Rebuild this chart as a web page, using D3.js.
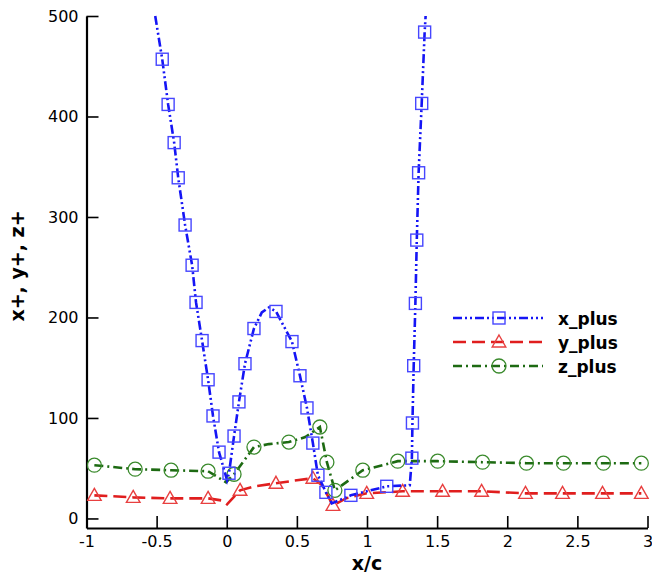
<!DOCTYPE html>
<html>
<head>
<meta charset="utf-8">
<script src="https://cdn.jsdelivr.net/npm/d3@7"></script>
<style>
  html, body { margin: 0; padding: 0; background: #fff; }
  svg { display: block; }
</style>
</head>
<body>
<svg id="chart" width="652" height="575"></svg>
<script>
// ---------------- data ----------------
const xTicks = [-1, -0.5, 0, 0.5, 1, 1.5, 2, 2.5, 3];
const xTickLabels = ["-1", "-0.5", "0", "0.5", "1", "1.5", "2", "2.5", "3"];
const yTicks = [0, 100, 200, 300, 400, 500];
const yTickLabels = ["0", "100", "200", "300", "400", "500"];
const xTitle = "x/c";
const yTitle = "x+, y+, z+";
const seriesNames = ["x_plus", "y_plus", "z_plus"];

// each point: [x/c, value, hasMarker]
const xPlus = [
  [-0.510, 500, 0], [-0.460, 457, 1], [-0.418, 412, 1], [-0.375, 374, 1], [-0.346, 339, 1],
  [-0.297, 292, 1], [-0.247, 252, 1], [-0.219, 215, 1], [-0.176, 177, 1], [-0.133, 138, 1],
  [-0.098, 102, 1], [-0.055, 66, 1], [0.002, 38, 0], [0.016, 45, 1], [0.052, 82, 1],
  [0.087, 116, 1], [0.130, 154, 1], [0.194, 189, 1], [0.250, 205, 0], [0.300, 210, 0],
  [0.351, 206, 1], [0.465, 176, 1], [0.522, 142, 1], [0.572, 110, 1], [0.614, 75, 1],
  [0.650, 43, 1], [0.707, 26, 1], [0.749, 15, 0], [0.885, 23, 1], [1.141, 32, 1],
  [1.305, 33, 0], [1.320, 60, 1], [1.324, 95, 1], [1.333, 152, 1], [1.345, 214, 1],
  [1.355, 277, 1], [1.368, 344, 1], [1.390, 413, 1], [1.411, 484, 1], [1.418, 500, 0]
];
const yPlus = [
  [-0.944, 23, 1], [-0.667, 21, 1], [-0.404, 20, 1], [-0.133, 20, 1], [-0.040, 18, 0],
  [0.002, 14, 0], [0.095, 28, 1], [0.200, 32, 0], [0.351, 35, 1], [0.500, 38, 0],
  [0.614, 40, 1], [0.680, 33, 0], [0.757, 13, 1], [0.850, 20, 0], [0.998, 25, 1],
  [1.254, 27, 1], [1.539, 27, 1], [1.817, 27, 1], [2.130, 25, 1], [2.394, 25, 1],
  [2.679, 25, 1], [2.956, 25, 1]
];
const zPlus = [
  [-0.944, 53, 1], [-0.653, 49, 1], [-0.397, 48, 1], [-0.133, 47, 1], [-0.005, 36, 0],
  [0.052, 44, 1], [0.194, 71, 1], [0.300, 74, 0], [0.443, 76, 1], [0.560, 81, 0],
  [0.664, 91, 1], [0.714, 56, 1], [0.771, 28, 1], [0.970, 48, 1], [1.219, 57, 1],
  [1.504, 57, 1], [1.824, 56, 1], [2.137, 55, 1], [2.401, 55, 1], [2.686, 55, 1],
  [2.956, 55, 1]
];

const seriesData = [xPlus, yPlus, zPlus];
const seriesColors = ["#1515f5", "#e01e1e", "#1d6a12"];
const markerColors = ["#4646ff", "#e84040", "#3a8a2c"];
const seriesDash = ["9,3,2,3,2,3", "13,6", "9,4,2,4"];
const seriesMarker = ["square", "triangle", "circle"];

// ---------------- scales ----------------
const svg = d3.select("#chart");
const x = d3.scaleLinear().domain([-1, 3]).range([86.5, 647.5]);
const y = d3.scaleLinear().domain([-9.5, 500]).range([528, 16]);

const tickFont = "DejaVu Sans, sans-serif";

// minor ticks
const xMinor = d3.range(-10, 31).map(d => d / 10).filter(v => !xTicks.some(t => Math.abs(t - v) < 1e-9));
const yMinor = d3.range(0, 501, 20).filter(v => !yTicks.includes(v));

const gx = svg.append("g").attr("transform", `translate(0,${y.range()[0]})`);
gx.call(d3.axisBottom(x).tickValues(xMinor).tickSize(-7).tickSizeOuter(0).tickFormat(""));
gx.call(d3.axisBottom(x).tickValues(xTicks).tickSize(-12).tickSizeOuter(0).tickPadding(8)
  .tickFormat((d, i) => xTickLabels[i]));

const gy = svg.append("g").attr("transform", `translate(${x.range()[0]},0)`);
gy.call(d3.axisLeft(y).tickValues(yMinor).tickSize(-7).tickSizeOuter(0).tickFormat(""));
gy.call(d3.axisLeft(y).tickValues(yTicks).tickSize(-12).tickSizeOuter(0).tickPadding(8)
  .tickFormat((d, i) => yTickLabels[i]));

svg.selectAll(".domain").attr("stroke", "#000").attr("stroke-width", 2.2);
svg.selectAll(".tick line").attr("stroke", "#000").attr("stroke-width", 1.6);
svg.selectAll(".tick text").attr("font-family", tickFont).attr("font-size", 16).attr("fill", "#000");

// axis titles
svg.append("text")
  .attr("x", (x.range()[0] + x.range()[1]) / 2)
  .attr("y", 570)
  .attr("text-anchor", "middle")
  .attr("font-family", tickFont).attr("font-weight", "bold").attr("font-size", 19)
  .text(xTitle);
svg.append("text")
  .attr("transform", "translate(24,266) rotate(-90)")
  .attr("text-anchor", "middle")
  .attr("font-family", tickFont).attr("font-weight", "bold").attr("font-size", 19)
  .text(yTitle);

// clip
svg.append("clipPath").attr("id", "plotclip").append("rect")
  .attr("x", x.range()[0]).attr("y", y.range()[1] - 1)
  .attr("width", x.range()[1] - x.range()[0] + 2).attr("height", y.range()[0] - y.range()[1] + 1);

const plot = svg.append("g").attr("clip-path", "url(#plotclip)");
const line = d3.line().x(d => x(d[0])).y(d => y(d[1]));

function drawMarker(g, type, cx, cy, color) {
  if (type === "square") {
    g.append("rect").attr("x", cx - 6).attr("y", cy - 6).attr("width", 12).attr("height", 12)
      .attr("fill", "none").attr("stroke", color).attr("stroke-width", 1.4);
  } else if (type === "triangle") {
    g.append("path").attr("d", `M${cx},${cy - 7}L${cx + 6.8},${cy + 5}L${cx - 6.8},${cy + 5}Z`)
      .attr("fill", "none").attr("stroke", color).attr("stroke-width", 1.4);
  } else {
    g.append("circle").attr("cx", cx).attr("cy", cy).attr("r", 7)
      .attr("fill", "none").attr("stroke", color).attr("stroke-width", 1.3);
  }
}

// draw order: z (green), y (red), x (blue) on top
[2, 1, 0].forEach(i => {
  const data = seriesData[i];
  plot.append("path").datum(data)
    .attr("d", line)
    .attr("fill", "none")
    .attr("stroke", seriesColors[i])
    .attr("stroke-width", 2.6)
    .attr("stroke-dasharray", seriesDash[i]);
  const mg = plot.append("g");
  data.filter(d => d[2]).forEach(d => drawMarker(mg, seriesMarker[i], x(d[0]), y(d[1]), markerColors[i]));
});

// legend
const legend = svg.append("g");
const legendRows = [318, 342, 366];
seriesNames.forEach((name, i) => {
  const ly = legendRows[i];
  legend.append("line").attr("x1", 453).attr("x2", 543).attr("y1", ly).attr("y2", ly)
    .attr("stroke", seriesColors[i]).attr("stroke-width", 2.6).attr("stroke-dasharray", seriesDash[i]);
  drawMarker(legend, seriesMarker[i], 499, ly, markerColors[i]);
  legend.append("text").attr("x", 558).attr("y", ly + 7)
    .attr("font-family", tickFont).attr("font-weight", "bold").attr("font-size", 17)
    .attr("fill", "#000").text(name);
});
</script>
</body>
</html>
